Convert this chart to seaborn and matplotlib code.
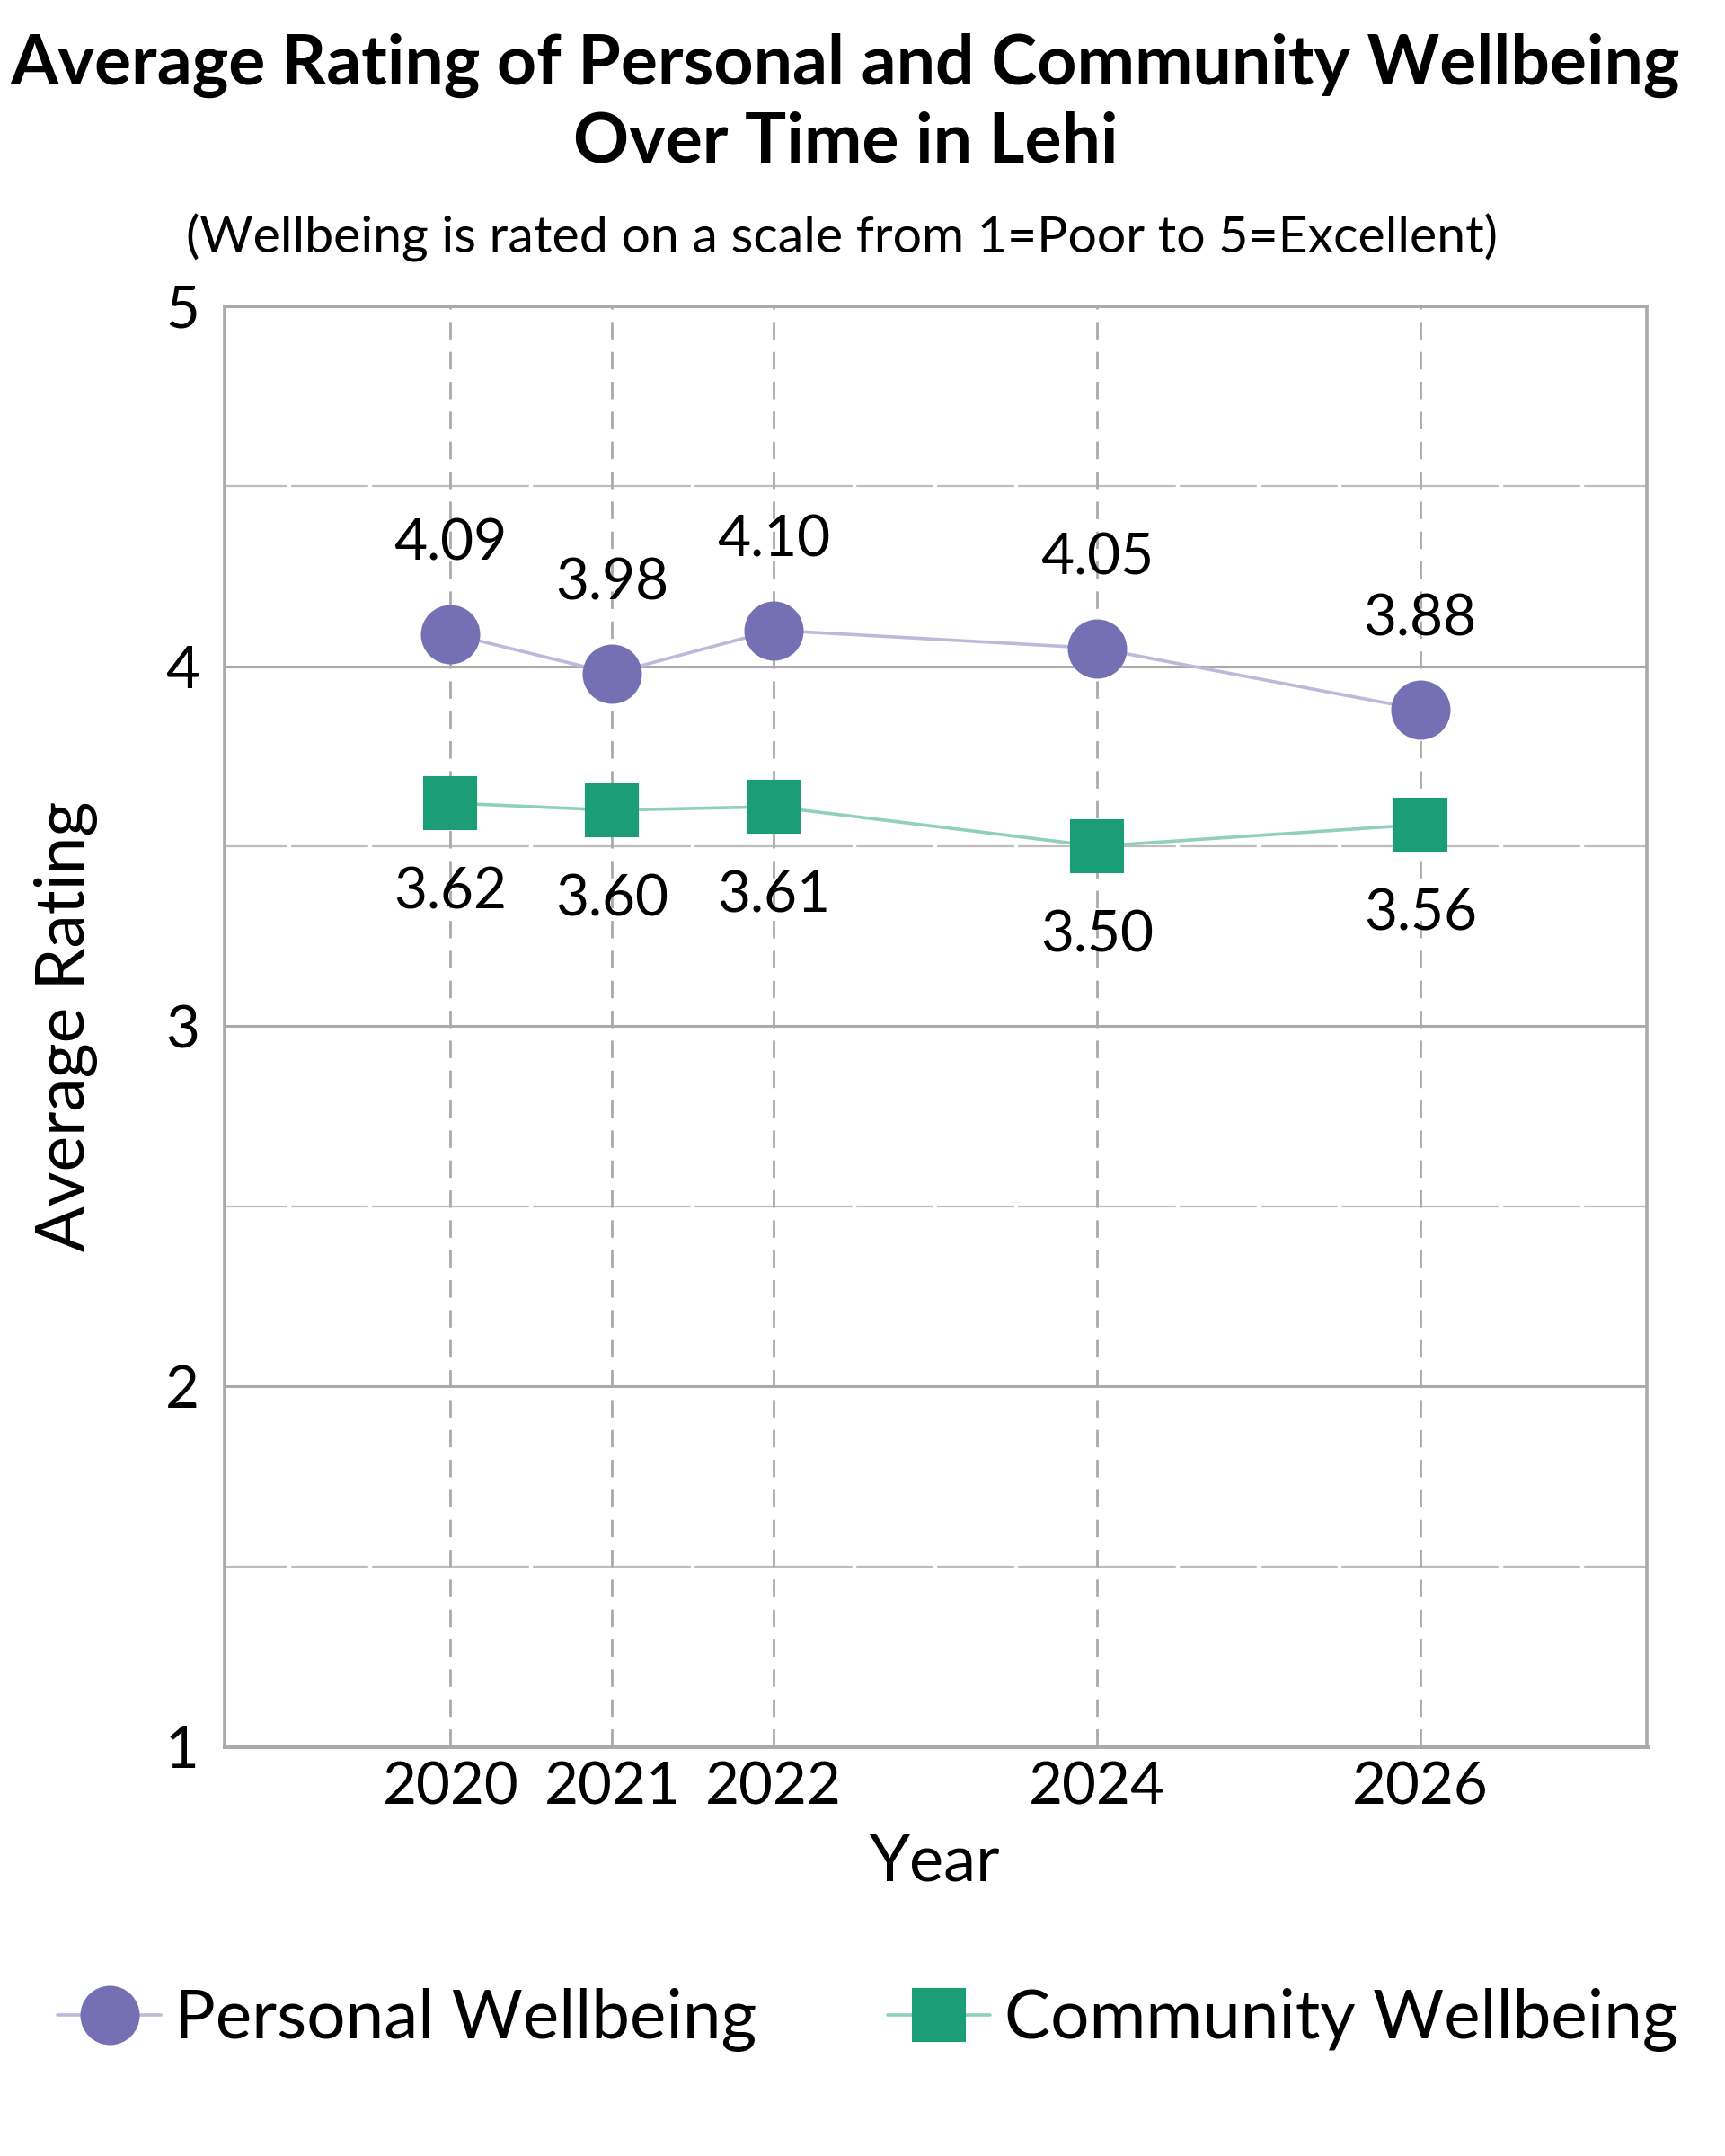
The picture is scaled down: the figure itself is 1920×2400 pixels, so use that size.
import pandas as pd
import matplotlib
matplotlib.use("Agg")
import matplotlib.pyplot as plt
import seaborn as sns

# data
years = [2020, 2021, 2022, 2024, 2026]
personal = [4.09, 3.98, 4.10, 4.05, 3.88]
community = [3.62, 3.60, 3.61, 3.50, 3.56]
series_names = ["Personal Wellbeing", "Community Wellbeing"]
y_ticks = [1, 2, 3, 4, 5]

sns.set_style("white")
plt.rcParams["font.family"] = ["Lato", "DejaVu Sans"]
plt.rcParams["text.color"] = "black"
plt.rcParams["axes.labelcolor"] = "black"
plt.rcParams["xtick.color"] = "black"
plt.rcParams["ytick.color"] = "black"

df = pd.DataFrame({"Year": years, "Personal": personal, "Community": community})

fig = plt.figure(figsize=(9.6, 12), dpi=200)
ax = fig.add_axes([0.130, 0.190, 0.8245, 0.668])

grid_grey = "#aaaaaa"

# minor horizontal grid, cut by white half-year lines, then major grid on top
for v in [1.5, 2.5, 3.5, 4.5]:
    ax.axhline(v, color="#bdbdbd", lw=0.8, zorder=0.5)
for v in [2018.5 + 0.5 * i for i in range(19)]:
    if v not in years:
        ax.axvline(v, color="white", lw=1.6, zorder=0.6)
for v in y_ticks:
    ax.axhline(v, color=grid_grey, lw=1.1, zorder=0.7)
for v in years:
    ax.axvline(v, color=grid_grey, lw=1.0, ls=(0, (7, 5)), zorder=0.8)

purple = "#7570b3"
green = "#1b9e77"

sns.lineplot(data=df, x="Year", y="Personal", ax=ax, color="#bcb9da", lw=1.3,
             marker="o", ms=23, markerfacecolor=purple, markeredgecolor=purple,
             label=series_names[0], zorder=3)
sns.lineplot(data=df, x="Year", y="Community", ax=ax, color="#8fd0b8", lw=1.3,
             marker="s", ms=21, markerfacecolor=green, markeredgecolor=green,
             label=series_names[1], zorder=3)

for x, y in zip(years, personal):
    ax.annotate(f"{y:.2f}", (x, y), xytext=(0, 36), textcoords="offset points",
                ha="center", va="center", fontsize=23)
for x, y in zip(years, community):
    ax.annotate(f"{y:.2f}", (x, y), xytext=(0, -36), textcoords="offset points",
                ha="center", va="center", fontsize=23)

ax.set_xlim(2018.6, 2027.4)
ax.set_ylim(1, 5)
ax.set_xticks(years)
ax.set_yticks(y_ticks)
ax.tick_params(axis="both", which="major", length=0, labelsize=23.5)
ax.tick_params(axis="x", pad=6)
ax.tick_params(axis="y", pad=10)
ax.set_xlabel("Year", fontsize=26, labelpad=7.5)
ax.set_ylabel("Average Rating", fontsize=27, labelpad=27)

for side in ["left", "top", "right"]:
    ax.spines[side].set_color(grid_grey)
    ax.spines[side].set_linewidth(1.3)
ax.spines["bottom"].set_color(grid_grey)
ax.spines["bottom"].set_linewidth(1.8)

ax.legend_.remove()
handles, labels = ax.get_legend_handles_labels()
fig.legend(handles, labels, loc="center", bbox_to_anchor=(0.503, 0.063), ncol=2,
           frameon=False, fontsize=27.5, handlelength=1.5, handletextpad=0.2,
           columnspacing=1.9)

fig.text(0.49, 0.952, "Average Rating of Personal and Community Wellbeing\nOver Time in Lehi",
         ha="center", va="center", fontsize=27.7, fontweight="bold", linespacing=1.26)
fig.text(0.488, 0.8895, "(Wellbeing is rated on a scale from 1=Poor to 5=Excellent)",
         ha="center", va="center", fontsize=20.6)

fig.savefig("out.png", dpi=200)
